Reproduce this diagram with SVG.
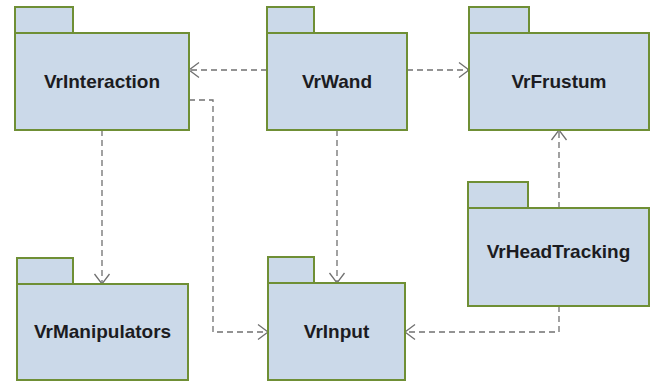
<svg xmlns="http://www.w3.org/2000/svg" width="657" height="383" viewBox="0 0 657 383">
<style>
.pk{fill:#cbd9e9;stroke:#6f8f35;stroke-width:2}
.lbl{font-family:"Liberation Sans",Arial,sans-serif;font-weight:bold;font-size:19px;fill:#1c1c22;text-anchor:middle}
.dep{fill:none;stroke:#707070;stroke-width:1.3;stroke-dasharray:6 4}
</style>
<defs>
<marker id="arr" markerUnits="userSpaceOnUse" markerWidth="14" markerHeight="18" viewBox="-12 -9 14 18" refX="0" refY="0" orient="auto">
<path d="M-10,-7.5 L0,0 L-10,7.5" fill="none" stroke="#707070" stroke-width="1.3" stroke-dasharray="none"/>
</marker>
</defs>
<rect width="657" height="383" fill="#ffffff"/>
<g id="connectors">
<path class="dep" d="M267,70 H189" marker-end="url(#arr)"/>
<path class="dep" d="M407,70 H469" marker-end="url(#arr)"/>
<path class="dep" d="M189,100 H213 V332 H268" marker-end="url(#arr)"/>
<path class="dep" d="M102,130 V284" marker-end="url(#arr)"/>
<path class="dep" d="M337,130 V283" marker-end="url(#arr)"/>
<path class="dep" d="M559,208 V130" marker-end="url(#arr)"/>
<path class="dep" d="M559,306 V332 H405" marker-end="url(#arr)"/>
</g>
<g id="VrInteraction">
<rect class="pk" x="15" y="7" width="58" height="26"/>
<rect class="pk" x="15" y="33" width="174" height="97"/>
<text class="lbl" x="102" y="88">VrInteraction</text>
</g>
<g id="VrWand">
<rect class="pk" x="267" y="7" width="47" height="26"/>
<rect class="pk" x="267" y="33" width="140" height="97"/>
<text class="lbl" x="337" y="88">VrWand</text>
</g>
<g id="VrFrustum">
<rect class="pk" x="469" y="7" width="60" height="26"/>
<rect class="pk" x="469" y="33" width="180" height="97"/>
<text class="lbl" x="559" y="88">VrFrustum</text>
</g>
<g id="VrManipulators">
<rect class="pk" x="17" y="258" width="56" height="26"/>
<rect class="pk" x="17" y="284" width="171" height="96"/>
<text class="lbl" x="102.5" y="338">VrManipulators</text>
</g>
<g id="VrInput">
<rect class="pk" x="268" y="257" width="46" height="26"/>
<rect class="pk" x="268" y="283" width="137" height="97"/>
<text class="lbl" x="336.5" y="338">VrInput</text>
</g>
<g id="VrHeadTracking">
<rect class="pk" x="468" y="182" width="60" height="26"/>
<rect class="pk" x="468" y="208" width="181" height="98"/>
<text class="lbl" x="558.5" y="258">VrHeadTracking</text>
</g>
</svg>
